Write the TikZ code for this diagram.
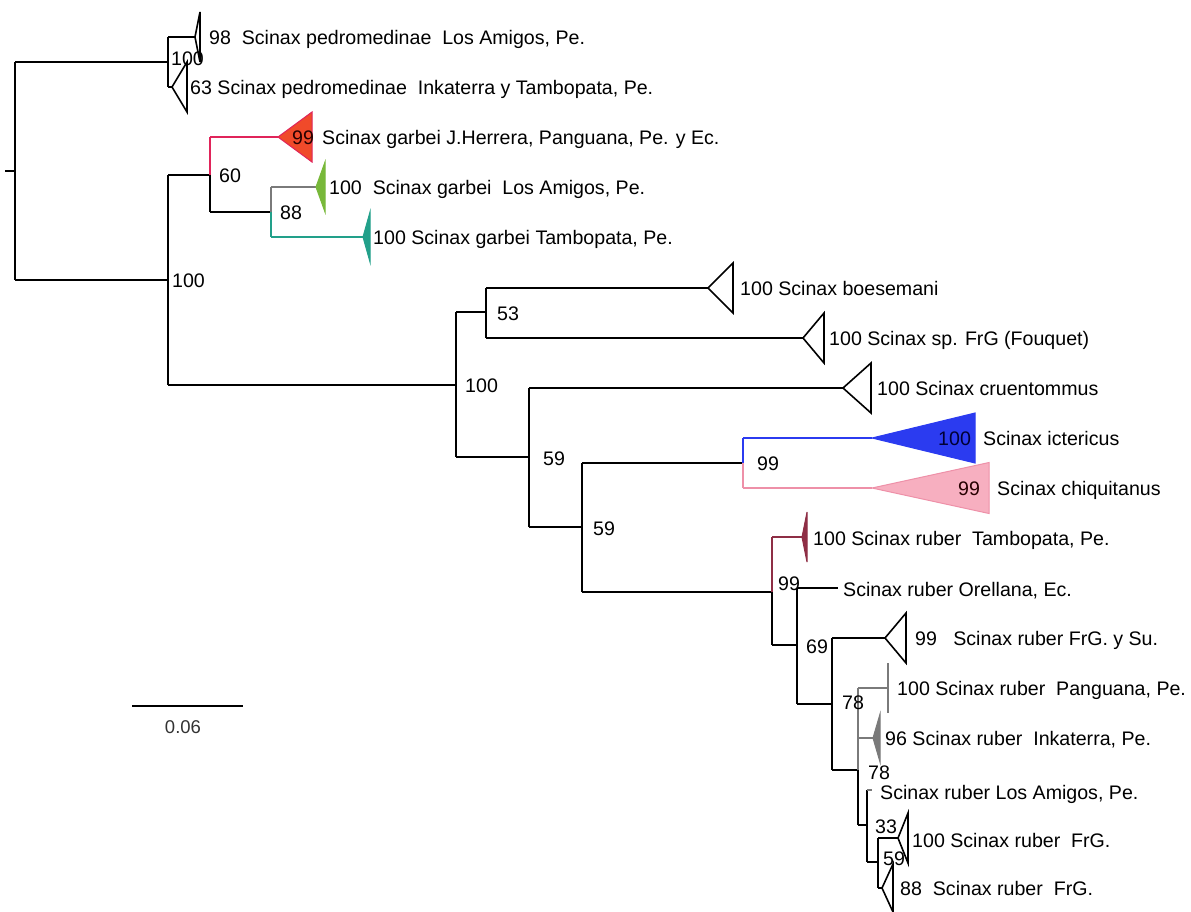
\documentclass[tikz,border=0pt]{standalone}
\usepackage{fontspec}
\setmainfont{Liberation Sans}
\definecolor{cred}{HTML}{E0245A}
\definecolor{credfill}{HTML}{F04A2A}
\definecolor{cgreen}{HTML}{78B83A}
\definecolor{cteal}{HTML}{22A08A}
\definecolor{cblue}{HTML}{2B3BF0}
\definecolor{cpink}{HTML}{F7AFC0}
\definecolor{cpinkline}{HTML}{EE90A8}
\definecolor{cmaroon}{HTML}{8E2E45}
\definecolor{cgrey}{HTML}{7A7A7A}
\newcommand\cladetri[6]{%
  \coordinate (#1) at (#2,#3);
  \coordinate (#1t) at (#4,#3-#5);
  \coordinate (#1b) at (#4,#3+#5);
  \draw[#6] (#1) -- (#1t) -- (#1b) -- cycle;}
\begin{document}
\begin{tikzpicture}[x=1pt,y=-1pt,
  br/.style={line width=2pt, black},
  cbr/.style={line width=1.6pt},
  tri/.style={line width=1.6pt, black, line join=miter},
  lab/.style={anchor=west, inner sep=0pt, text height=14pt, text depth=0pt,
    font=\fontsize{19.6}{23}\selectfont},
]
\useasboundingbox (0,0) rectangle (1191,911);
% internal node coordinates
\coordinate (root) at (15,171);
\coordinate (stub) at (5,171);
\coordinate (nA) at (168,62);
\coordinate (nB) at (168,280);
\coordinate (nC) at (210,175);
\coordinate (nD) at (271,212);
\coordinate (nE) at (456,385);
\coordinate (nF) at (486,312);
\coordinate (nG) at (529,457);
\coordinate (nH) at (582,527);
\coordinate (nI) at (743,463);
\coordinate (nJ) at (772,592);
\coordinate (nK) at (797,645);
\coordinate (nL) at (832,704);
\coordinate (nM) at (858,770);
\coordinate (nN) at (867,825);
\coordinate (nO) at (878,862);
% root
\draw[br] (stub) -- (root);
\draw[br] (15,62) -- (15,280);
\draw[br] (15,62) -- (nA);
\draw[br] (15,280) -- (nB);
% pedromedinae
\draw[br] (168,37) -- (168,87);
\draw[br] (168,37) -- (195,37);
\draw[br] (168,87) -- (172,87);
\cladetri{tP98}{195}{37}{200}{25}{tri}
\cladetri{tP63}{172}{87}{187}{25}{tri}
% node B
\draw[br] (168,175) -- (168,385);
\draw[br] (168,175) -- (nC);
\draw[cbr,cred] (210,137) -- (nC);
\draw[br] (nC) -- (210,212);
\draw[cbr,cred] (210,137) -- (278,137);
\cladetri{tRed}{278}{137}{312}{25}{fill=credfill, draw=cred, line width=1pt}
\draw[br] (210,212) -- (nD);
\draw[cbr,cgrey] (271,187) -- (nD);
\draw[cbr,cteal] (nD) -- (271,237);
\draw[cbr,cgrey] (271,187) -- (316,187);
\cladetri{tGreen}{316}{187}{325}{25}{fill=cgreen, draw=cgreen, line width=1pt}
\draw[cbr,cteal] (271,237) -- (363,237);
\cladetri{tTeal}{363}{237}{370}{25}{fill=cteal, draw=cteal, line width=1pt}
% node E
\draw[br] (168,385) -- (nE);
\draw[br] (456,312) -- (456,457);
\draw[br] (456,312) -- (nF);
\draw[br] (486,288) -- (486,338);
\draw[br] (486,288) -- (708,288);
\cladetri{tBoes}{708}{288}{733}{25}{tri}
\draw[br] (486,338) -- (803,338);
\cladetri{tSp}{803}{338}{824}{25}{tri}
\draw[br] (456,457) -- (nG);
\draw[br] (529,388) -- (529,527);
\draw[br] (529,388) -- (843,388);
\cladetri{tCru}{843}{388}{871}{25}{tri}
\draw[br] (529,527) -- (nH);
\draw[br] (582,463) -- (582,592);
\draw[br] (582,463) -- (nI);
\draw[cbr,cblue] (743,438) -- (nI);
\draw[cbr,cpinkline] (nI) -- (743,488);
\draw[cbr,cblue] (743,438) -- (872,438);
\cladetri{tBlue}{872}{438}{975}{25}{fill=cblue, draw=cblue, line width=1pt}
\draw[cbr,cpinkline] (743,488) -- (872,488);
\cladetri{tPink}{872}{488}{989}{25.5}{fill=cpink, draw=cpinkline, line width=1pt}
% ruber
\draw[br] (582,592) -- (nJ);
\draw[cbr,cmaroon] (772,537) -- (nJ);
\draw[br] (nJ) -- (772,645);
\draw[cbr,cmaroon] (772,537) -- (802,537);
\cladetri{tMar}{802}{537}{807}{25}{fill=cmaroon, draw=cmaroon, line width=1pt}
\draw[br] (772,645) -- (nK);
\draw[br] (797,588) -- (797,704);
\draw[br] (797,588) -- (838,588);
\draw[br] (797,704) -- (nL);
\draw[br] (832,638) -- (832,770);
\draw[br] (832,638) -- (885,638);
\cladetri{tFrGSu}{885}{638}{906}{25}{tri}
\draw[br] (832,770) -- (nM);
\draw[cbr,cgrey] (858,688) -- (nM);
\draw[br] (nM) -- (858,825);
\draw[cbr,cgrey] (858,688) -- (888,688);
\draw[cbr,cgrey] (888,663) -- (888,713);
\draw[cbr,cgrey] (858,738) -- (873,738);
\cladetri{tInk}{873}{738}{880}{24}{fill=cgrey, draw=cgrey, line width=1pt}
\draw[br] (858,825) -- (nN);
\draw[br] (867,790) -- (867,862);
\draw[cbr,cgrey] (867,790) -- (872,790);
\draw[br] (867,862) -- (nO);
\draw[br] (878,838) -- (878,888);
\draw[br] (878,838) -- (898,838);
\cladetri{tFrG1}{898}{838}{908}{25}{tri}
\draw[br] (878,888) -- (882,888);
\cladetri{tFrG2}{882}{888}{893}{24}{tri}
% scale bar
\coordinate (sb1) at (132,706);
\coordinate (sb2) at (243,706);
\draw[line width=2pt] (sb1) -- (sb2);
\node[inner sep=0pt, font=\fontsize{18.5}{22}\selectfont, text=black!80] (sbl) at (183,727) {0.06};
% support labels
\node[lab] (s1) at (171,58) {100};
\node[lab] (s2) at (172,280) {100};
\node[lab] (s3) at (219,175) {60};
\node[lab] (s4) at (280,212) {88};
\node[lab] (s5) at (497,313) {53};
\node[lab] (s6) at (465,385) {100};
\node[lab] (s7) at (543,458) {59};
\node[lab] (s8) at (593,528) {59};
\node[lab] (s9) at (757,463) {99};
\node[lab] (s10) at (778,583) {99};
\node[lab] (s11) at (806,646) {69};
\node[lab] (s12) at (842,702) {78};
\node[lab] (s13) at (868,772) {78};
\node[lab] (s14) at (875,826) {33};
\node[lab] (s15) at (883,858) {59};
% taxon labels
\node[lab] (L1) at (209,37) {98\ \ Scinax pedromedinae\ \ Los Amigos, Pe.};
\node[lab] (L2) at (190,87) {63 Scinax pedromedinae\ \ Inkaterra y Tambopata, Pe.};
\node[lab, text=black!85!red] (L3a) at (292,137) {99};
\node[lab] (L3) at (322,137) {Scinax garbei J.Herrera, Panguana, Pe. y Ec.};
\node[lab] (L4) at (329,187) {100\ \ Scinax garbei\ \ Los Amigos, Pe.};
\node[lab] (L5) at (373,237) {100 Scinax garbei Tambopata, Pe.};
\node[lab] (L6) at (740,288) {100 Scinax boesemani};
\node[lab] (L7) at (829,338) {100 Scinax sp. FrG (Fouquet)};
\node[lab] (L8) at (877,388) {100 Scinax cruentommus};
\node[lab, text=black!80!blue] (L9a) at (938,438) {100};
\node[lab] (L9) at (983,438) {Scinax ictericus};
\node[lab, text=black!85!red] (L10a) at (958,488) {99};
\node[lab] (L10) at (997,488) {Scinax chiquitanus};
\node[lab] (L11) at (813,538) {100 Scinax ruber\ \ Tambopata, Pe.};
\node[lab] (L12) at (843,589) {Scinax ruber Orellana, Ec.};
\node[lab] (L13) at (915,638) {99\ \ \ Scinax ruber FrG. y Su.};
\node[lab] (L14) at (897,688) {100 Scinax ruber\ \ Panguana, Pe.};
\node[lab] (L15) at (885,738) {96 Scinax ruber\ \ Inkaterra, Pe.};
\node[lab] (L16) at (880,792) {Scinax ruber Los Amigos, Pe.};
\node[lab] (L17) at (912,840) {100 Scinax ruber\ \ FrG.};
\node[lab] (L18) at (900,888) {88\ \ Scinax ruber\ \ FrG.};
\end{tikzpicture}
\end{document}
